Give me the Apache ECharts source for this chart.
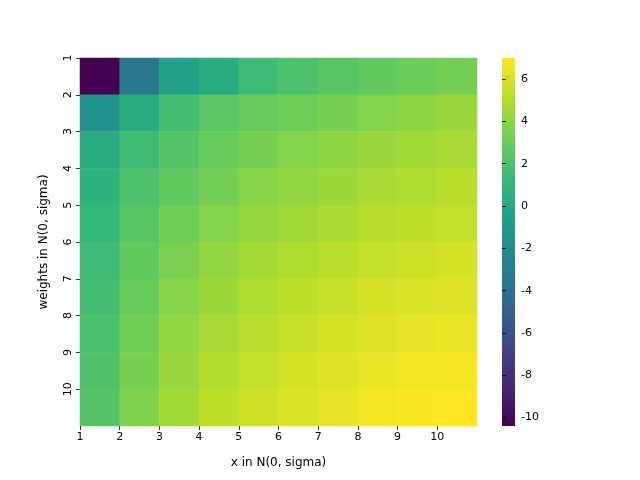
<!DOCTYPE html>
<html><head><meta charset="utf-8">
<script src="https://cdn.jsdelivr.net/npm/echarts@6/dist/echarts.min.js"></script>
<style>html,body{margin:0;padding:0;background:#fff}#c{width:640px;height:480px}</style>
</head><body><div id="c"></div>
<script>
var xCats = ['1','2','3','4','5','6','7','8','9','10'];
var yCats = ['1','2','3','4','5','6','7','8','9','10'];
var rows = [
  [-10.4, -3.5, -0.5, 0.3, 1.5, 2.0, 2.4, 2.7, 3.0, 3.3],
  [-1.5, 0.3, 1.7, 2.5, 2.9, 3.1, 3.4, 3.7, 4.0, 4.3],
  [0.2, 1.5, 2.3, 2.9, 3.4, 3.7, 4.0, 4.3, 4.5, 4.7],
  [0.8, 2.0, 2.7, 3.3, 3.8, 4.1, 4.4, 4.7, 4.9, 5.1],
  [1.2, 2.4, 3.1, 3.7, 4.2, 4.5, 4.8, 5.1, 5.3, 5.5],
  [1.5, 2.7, 3.5, 4.1, 4.6, 4.9, 5.2, 5.5, 5.7, 5.9],
  [1.7, 2.9, 3.8, 4.4, 4.9, 5.3, 5.6, 5.9, 6.1, 6.2],
  [1.9, 3.2, 4.1, 4.7, 5.2, 5.6, 5.9, 6.2, 6.4, 6.5],
  [2.1, 3.4, 4.3, 5.0, 5.5, 5.9, 6.2, 6.5, 6.7, 6.8],
  [2.3, 3.6, 4.5, 5.3, 5.8, 6.1, 6.4, 6.7, 6.9, 7.0]
];
var axisTicks = [1, 2, 3, 4, 5, 6, 7, 8, 9, 10];
var cbTicks = [-10, -8, -6, -4, -2, 0, 2, 4, 6];
var vMin = -10.4, vMax = 7.0;
var viridis = ['#440154','#482878','#3e4989','#31688e','#26828e','#1f9e89','#35b779','#6ece58','#b5de2b','#fde725'];

var data = [];
rows.forEach(function (r, i) { r.forEach(function (v, j) { data.push([j, i, v]); }); });

var font = 'DejaVu Sans';
var lab = { color: '#000', fontFamily: font, fontSize: 11 };
var tick = { show: true, inside: false, length: 4, lineStyle: { color: '#000', width: 0.8 } };
var gradStops = viridis.map(function (c, i) { return { offset: 1 - i / (viridis.length - 1), color: c }; });

var chart = echarts.init(document.getElementById('c'));
chart.setOption({
  animation: false,
  grid: [
    { left: 80, top: 58, width: 397, height: 368 },
    { left: 502, top: 58, width: 13, height: 368, show: true, borderWidth: 0,
      backgroundColor: { type: 'linear', x: 0, y: 0, x2: 0, y2: 1, colorStops: gradStops } }
  ],
  xAxis: [
    { type: 'category', data: xCats, gridIndex: 0, show: false },
    { type: 'value', gridIndex: 0, min: 1, max: 11, position: 'bottom',
      name: 'x in N(0, sigma)', nameLocation: 'middle', nameGap: 31,
      nameTextStyle: { color: '#000', fontFamily: font, fontSize: 12 },
      axisLine: { show: false }, splitLine: { show: false },
      axisTick: Object.assign({ customValues: axisTicks }, tick),
      axisLabel: Object.assign({ margin: 6, customValues: axisTicks }, lab) },
    { type: 'value', gridIndex: 1, show: false, min: 0, max: 1 }
  ],
  yAxis: [
    { type: 'category', data: yCats, gridIndex: 0, inverse: true, show: false },
    { type: 'value', gridIndex: 0, min: 1, max: 11, inverse: true, position: 'left',
      name: 'weights in N(0, sigma)', nameLocation: 'middle', nameGap: 30,
      nameTextStyle: { color: '#000', fontFamily: font, fontSize: 12 },
      axisLine: { show: false }, splitLine: { show: false },
      axisTick: Object.assign({ customValues: axisTicks }, tick),
      axisLabel: Object.assign({ margin: 6, rotate: 90, customValues: axisTicks }, lab) },
    { type: 'value', gridIndex: 1, min: vMin, max: vMax, position: 'right',
      axisLine: { show: false }, splitLine: { show: false },
      axisTick: Object.assign({ customValues: cbTicks }, tick),
      axisLabel: Object.assign({ customValues: cbTicks, margin: 6 }, lab) }
  ],
  visualMap: { show: false, min: vMin, max: vMax, seriesIndex: 0, inRange: { color: viridis } },
  series: [{ type: 'heatmap', xAxisIndex: 0, yAxisIndex: 0, data: data, itemStyle: { borderWidth: 0 } }]
});
</script></body></html>
